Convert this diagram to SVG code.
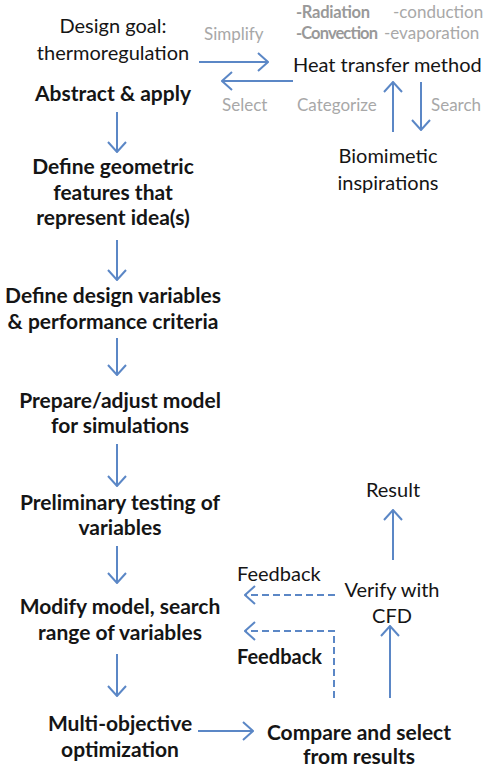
<svg xmlns="http://www.w3.org/2000/svg" width="487" height="767" viewBox="0 0 487 767">
<defs>
<marker id="ah" viewBox="0 0 12 20" refX="11" refY="10" markerWidth="12" markerHeight="20" markerUnits="userSpaceOnUse" orient="auto">
<path d="M1,1 L11,10 L1,19" fill="none" stroke="#5b87c6" stroke-width="2"/>
</marker>
<style>
text{font-family:Lato,"Open Sans",sans-serif;font-size:20px;fill:#151515}
.c{text-anchor:middle}
.b{font-weight:bold;font-size:21px}
.g{fill:#a8a8a8}
.gb{fill:#999;font-weight:bold;font-size:16.5px}
.s{font-size:17px}
.ln{stroke:#5b87c6;stroke-width:2;fill:none;marker-end:url(#ah)}
.d{stroke-dasharray:7,4}
</style>
</defs>
<rect width="487" height="767" fill="#fff"/>
<g id="goal"><text class="c" x="113" y="33">Design goal:</text><text class="c" x="113" y="60">thermoregulation</text></g>
<g id="abstract"><text class="c b" x="113" y="101">Abstract &amp; apply</text></g>
<g id="geometric"><text class="c b" x="113" y="174">Define geometric</text><text class="c b" x="113" y="200">features that</text><text class="c b" x="113" y="225">represent idea(s)</text></g>
<g id="variables"><text class="c b" x="113" y="303">Define design variables</text><text class="c b" x="113" y="329">&amp; performance criteria</text></g>
<g id="prepare"><text class="c b" x="120" y="408">Prepare/adjust model</text><text class="c b" x="120" y="433">for simulations</text></g>
<g id="preliminary"><text class="c b" x="120" y="510">Preliminary testing of</text><text class="c b" x="120" y="535">variables</text></g>
<g id="modify"><text class="c b" x="120" y="614">Modify model, search</text><text class="c b" x="120" y="640">range of variables</text></g>
<g id="moo"><text class="c b" x="120" y="731">Multi-objective</text><text class="c b" x="120" y="757">optimization</text></g>
<g id="compare"><text class="c b" x="359" y="740">Compare and select</text><text class="c b" x="359" y="764">from results</text></g>
<g id="heat"><text x="293" y="72">Heat transfer method</text></g>
<g id="methods"><text class="gb" x="296" y="18" textLength="74">-Radiation</text><text class="g s" x="393" y="18">-conduction</text><text class="gb" x="296" y="39" textLength="82">-Convection</text><text class="g s" x="384" y="39">-evaporation</text></g>
<g id="bio"><text class="c" x="388" y="163">Biomimetic</text><text class="c" x="388" y="190">inspirations</text></g>
<g id="result"><text class="c" x="393" y="497">Result</text></g>
<g id="verify"><text class="c" x="392" y="597">Verify with</text><text class="c" x="392" y="623">CFD</text></g>
<g id="labels">
<text class="g s" x="204" y="40">Simplify</text>
<text class="g s" x="222" y="111">Select</text>
<text class="g s" x="297" y="111">Categorize</text>
<text class="g s" x="431" y="111">Search</text>
<text x="237" y="581">Feedback</text>
<text class="b" x="237" y="664" style="font-size:20px">Feedback</text>
</g>
<g id="connectors">
<path class="ln" d="M199,62 H268"/>
<path class="ln" d="M293,81 H222"/>
<path class="ln" d="M393,132 V82"/>
<path class="ln" d="M421,82 V130"/>
<path class="ln" d="M117,112 V152"/>
<path class="ln" d="M117,240 V280"/>
<path class="ln" d="M117,338 V375"/>
<path class="ln" d="M117,444 V486"/>
<path class="ln" d="M117,546 V583"/>
<path class="ln" d="M117,654 V696"/>
<path class="ln" d="M198,731 H253"/>
<path class="ln" d="M393,560 V510"/>
<path class="ln" d="M390,698 V626"/>
<path class="ln d" d="M335,595 H245"/>
<path class="ln d" d="M334,698 V631 H245"/>
</g>
</svg>
